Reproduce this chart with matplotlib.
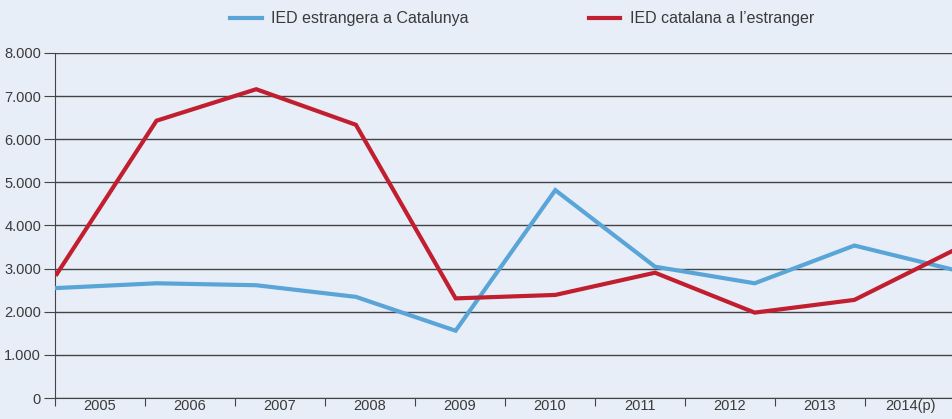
import matplotlib.pyplot as plt
import numpy as np

anys = ["2005", "2006", "2007", "2008", "2009", "2010", "2011", "2012", "2013", "2014(p)"]
ied_estrangera = [2550, 2660, 2615, 2345, 1560, 4820, 3045, 2660, 3535, 2970]
ied_catalana = [2875, 6430, 7160, 6335, 2310, 2390, 2905, 1980, 2275, 3430]

plt.rcParams['font.family'] = ['Liberation Sans', 'DejaVu Sans']
bg = "#e8eef8"
blau = "#5aa5d8"
vermell = "#c11f2f"
txt = "#3a3a3a"

fig = plt.figure(figsize=(9.52, 4.19), dpi=100, facecolor=bg)
ax = fig.add_axes([55/952, 21/419, 897/952, 345/419], facecolor=bg)

# the lines span the whole width, the year labels sit in equal slots
n = len(anys)
x = np.arange(n) * 9.97 / (n - 1) + 0.02
ax.plot(x, ied_estrangera, color=blau, lw=3, label="IED estrangera a Catalunya", solid_joinstyle="miter", zorder=3)
ax.plot(x, ied_catalana, color=vermell, lw=3, label="IED catalana a l\u2019estranger", solid_joinstyle="miter", zorder=3)

ax.set_xlim(0, 897/90)
ax.set_ylim(0, 8000)
ax.set_yticks(range(0, 8001, 1000))
ax.set_yticklabels(["0" if v == 0 else f"{v//1000}.000" for v in range(0, 8001, 1000)])
ax.yaxis.grid(True, color="#444444", lw=1)
ax.set_axisbelow(True)

ax.set_xticks(np.arange(0, n))
ax.set_xticklabels([])
ax.set_xticks(np.arange(n) + 0.5, minor=True)
ax.set_xticklabels(anys, minor=True)
ax.tick_params(axis="x", which="major", length=6, color="#444444", direction="out")
ax.tick_params(axis="x", which="minor", length=0, pad=1, labelsize=10.5, labelcolor=txt)
ax.tick_params(axis="y", length=8, color="#444444", pad=2, labelsize=10.5, labelcolor=txt)

for s in ["top", "right"]:
    ax.spines[s].set_visible(False)
ax.spines["left"].set_color("#444444")
ax.spines["bottom"].set_color("#444444")

fig.legend(loc="center", bbox_to_anchor=(522/952, 1 - 19/419), ncol=2, frameon=False,
           fontsize=11.5, handlelength=2.0, handletextpad=0.6, columnspacing=7.5,
           labelcolor=txt)

fig.savefig("out.png", dpi=100, facecolor=bg)
